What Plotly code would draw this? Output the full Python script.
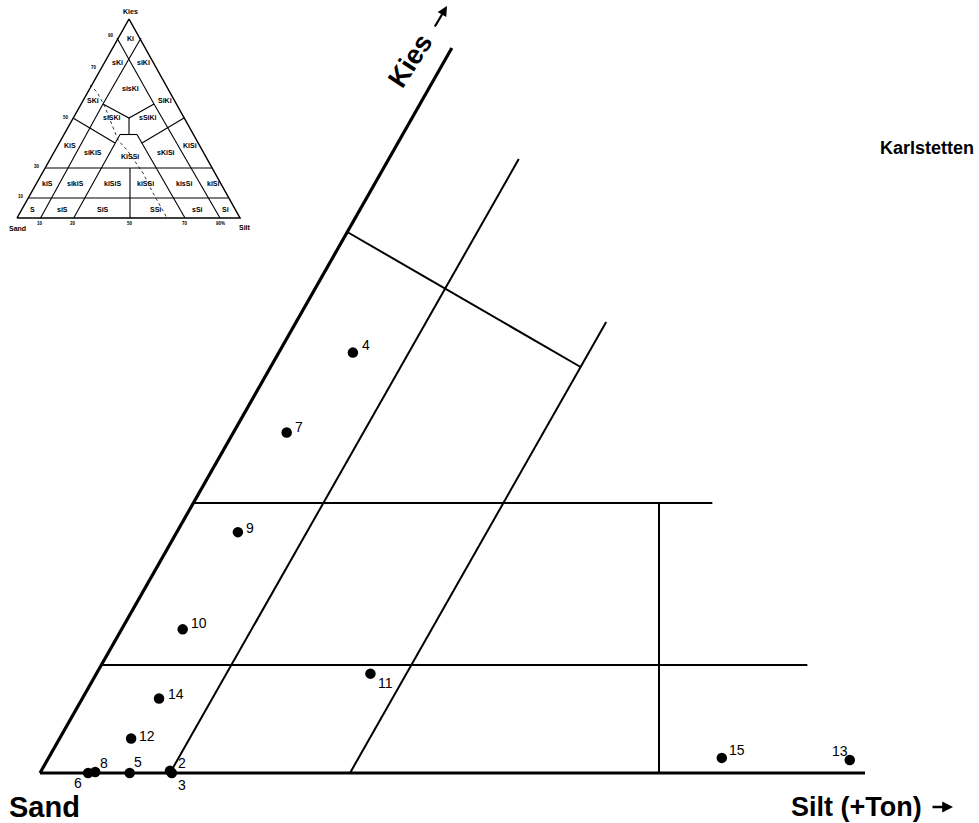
import numpy as np
import plotly.graph_objects as go

# ---------------- data ----------------
sample_ids = ["2", "3", "4", "5", "6", "7", "8", "9", "10", "11", "12", "13", "14", "15"]
silt_pct = [9.9, 10.1, 5.7, 6.9, 3.7, 4.1, 4.2, 4.7, 4.7, 18.0, 5.5, 62.0, 5.9, 53.5]
kies_pct = [0.2, 0.0, 41.1, 0.0, 0.0, 35.2, 0.1, 26.4, 14.4, 9.2, 3.2, 1.2, 6.9, 1.4]

# axis calibration of the (non-linear) diagram scales: percent -> diagram units
silt_ticks = [0, 10, 20, 50, 70, 90, 100]
silt_units = [0, 130, 310, 620, 924, 1116, 1226]
kies_ticks = [0, 10, 30, 50, 70, 90, 100]
kies_units = [0, 108, 270, 541, 830, 990, 1094]

# key diagram: class names and tick labels
inset_classes = ["Ki", "sKi", "siKi", "sisKi", "SKi", "SiKi", "siSKi", "sSiKi",
                 "KiS", "siKiS", "KiSSi", "sKiSi", "KiSi",
                 "kiS", "sikiS", "kiSiS", "kiSSi", "kisSi", "kiSi",
                 "S", "siS", "SiS", "SSi", "sSi", "Si"]
inset_bottom_ticks = ["10", "20", "50", "70", "90%"]
inset_left_ticks = ["90", "70", "50", "30", "10"]

# ---------------- geometry of the drawing ----------------
SHEAR = 0.568  # horizontal offset per unit of height (60-degree edges)

def main_xy(u, h):
    u = np.asarray(u, float); h = np.asarray(h, float)
    return u + SHEAR * h, h

# main diagram frame (diagram units: u along Silt axis, h along Kies axis)
main_frame = [[(0, 0), (825, 0)], [(0, 0), (0, 725)]]
main_grid = [
    [(130, 0), (130, 614)],
    [(310, 0), (310, 451)],
    [(0, 541), (310, 406)],
    [(0, 108), (706, 108)],
    [(0, 270), (519, 270)],
    [(619, 0), (619 - 270 * SHEAR, 270)],
]

# key diagram (inset), units relative to its Sand corner
def inset_xy(dx, dy):
    dx = np.asarray(dx, float); dy = np.asarray(dy, float)
    return dx - 23, dy + 555

inset_outline = [[(0, 0), (223, 0), (112, 199), (0, 0)]]
inset_grid = [
    [(11.3, 20), (211.8, 20)],
    [(28.2, 50), (195.1, 50)],
    [(113, 0), (113, 50)],
    [(23.6, 0), (86, 114)],
    [(56.7, 0), (103, 83.5)],
    [(56, 100), (98, 75)],
    [(203, 0), (137, 114)],
    [(168, 0), (120, 83.5)],
    [(167, 100), (125, 75)],
    [(100, 180), (137, 114)],
    [(124, 180), (86, 114)],
    [(86, 114), (112, 100), (137, 114)],
    [(112, 100), (112, 83.5)],
    [(103, 83.5), (120, 83.5)],
]
inset_curve = [(73, 133), (80, 126), (88, 111), (101, 78), (110, 68), (126, 45), (136, 25), (150, 0)]
inset_class_pos = [(113, 180), (100, 156), (126, 156), (113, 130), (76, 118), (148, 118),
                   (95, 101), (131, 101),
                   (53, 73), (76, 66), (113, 62), (149, 66), (173, 73),
                   (30, 35), (58, 35), (95, 35), (128, 35), (167, 35), (196, 35),
                   (15, 9), (45, 9), (86, 9), (138, 9), (180, 9), (208, 9)]
inset_bottom_pos = [(23, -5), (56, -5), (113, -5), (168, -5), (203, -5)]
inset_left_pos = [(94, 183), (77, 151), (49, 101), (20, 52), (4, 22)]


def seg_xy(segs, fn):
    xs, ys = [], []
    for s in segs:
        x, y = fn([p[0] for p in s], [p[1] for p in s])
        xs += list(x) + [None]
        ys += list(y) + [None]
    return xs, ys


fig = go.Figure()

# main frame and grid
x, y = seg_xy(main_frame, main_xy)
fig.add_trace(go.Scatter(x=x, y=y, mode="lines", line=dict(color="black", width=3.2),
                         hoverinfo="skip", showlegend=False))
x, y = seg_xy(main_grid, main_xy)
fig.add_trace(go.Scatter(x=x, y=y, mode="lines", line=dict(color="black", width=2),
                         hoverinfo="skip", showlegend=False))

# inset
x, y = seg_xy(inset_outline, inset_xy)
fig.add_trace(go.Scatter(x=x, y=y, mode="lines", line=dict(color="black", width=1.5),
                         hoverinfo="skip", showlegend=False))
x, y = seg_xy(inset_grid, inset_xy)
fig.add_trace(go.Scatter(x=x, y=y, mode="lines", line=dict(color="black", width=1.1),
                         hoverinfo="skip", showlegend=False))
x, y = seg_xy([inset_curve], inset_xy)
fig.add_trace(go.Scatter(x=x, y=y, mode="lines", line=dict(color="black", width=0.8, dash="dot"),
                         hoverinfo="skip", showlegend=False))

# sample points
u = np.interp(silt_pct, silt_ticks, silt_units)
h = np.interp(kies_pct, kies_ticks, kies_units)
px, py = main_xy(u, h)
fig.add_trace(go.Scatter(x=px, y=py, mode="markers", text=sample_ids,
                         marker=dict(color="black", size=10.5),
                         hovertemplate="Probe %{text}<extra></extra>", showlegend=False))

# label offsets in screen pixels (right, up)
label_shift = {"2": (12, 8), "3": (10, -12), "4": (13, 8), "5": (8, 11), "6": (-10, -10),
               "7": (12, 6), "8": (9, 9), "9": (12, 4), "10": (16, 6), "11": (15, -9),
               "12": (16, 2), "13": (-10, 9), "14": (17, 4), "15": (15, 8)}
annotations = []
for sid, xx, yy in zip(sample_ids, px, py):
    sx, sy = label_shift[sid]
    annotations.append(dict(x=xx, y=yy, xref="x", yref="y", text=sid, showarrow=False,
                            xshift=sx, yshift=sy, xanchor="center", yanchor="middle",
                            font=dict(family="Liberation Sans, Arial", size=14, color="black")))

# inset texts
for name, (dx, dy) in zip(inset_classes, inset_class_pos):
    ix, iy = inset_xy(dx, dy)
    annotations.append(dict(x=float(ix), y=float(iy), xref="x", yref="y", text="<b>%s</b>" % name,
                            showarrow=False, xanchor="center", yanchor="middle",
                            font=dict(family="Liberation Sans, Arial", size=7, color="black")))
for name, (dx, dy) in zip(inset_bottom_ticks, inset_bottom_pos):
    ix, iy = inset_xy(dx, dy)
    annotations.append(dict(x=float(ix), y=float(iy), xref="x", yref="y", text="<b>%s</b>" % name,
                            showarrow=False, xanchor="center", yanchor="middle",
                            font=dict(family="Liberation Sans, Arial", size=4.5, color="black")))
for name, (dx, dy) in zip(inset_left_ticks, inset_left_pos):
    ix, iy = inset_xy(dx, dy)
    annotations.append(dict(x=float(ix), y=float(iy), xref="x", yref="y", text="<b>%s</b>" % name,
                            showarrow=False, xanchor="center", yanchor="middle",
                            font=dict(family="Liberation Sans, Arial", size=4.5, color="black")))
for name, (dx, dy) in [("Kies", (113, 207)), ("Sand", (0, -10)), ("Silt", (228, -9))]:
    ix, iy = inset_xy(dx, dy)
    annotations.append(dict(x=float(ix), y=float(iy), xref="x", yref="y", text="<b>%s</b>" % name,
                            showarrow=False, xanchor="center", yanchor="middle",
                            font=dict(family="Liberation Sans, Arial", size=7, color="black")))

# main titles
bold = "Liberation Sans, Arial"
annotations += [
    dict(x=4, y=-34, xref="x", yref="y", text="<b>Sand</b>", showarrow=False,
         xanchor="center", yanchor="middle", font=dict(family=bold, size=29, color="black")),
    dict(x=816, y=-34, xref="x", yref="y", text="<b>Silt (+Ton)</b>", showarrow=False,
         xanchor="center", yanchor="middle", font=dict(family=bold, size=27, color="black")),
    # arrow after the Silt label
    dict(x=913, y=-34, xref="x", yref="y", ax=891, ay=-34, axref="x", ayref="y", text="",
         showarrow=True, arrowhead=2, arrowsize=0.9, arrowwidth=2.4, arrowcolor="black"),
    dict(x=887, y=625, xref="x", yref="y", text="<b>Karlstetten</b>", showarrow=False,
         xanchor="center", yanchor="middle", font=dict(family=bold, size=18, color="black")),
    dict(x=370, y=712, xref="x", yref="y", text="<b>Kies</b>", showarrow=False, textangle=-57,
         xanchor="center", yanchor="middle", font=dict(family=bold, size=27, color="black")),
    # arrow after the Kies label
    dict(x=407, y=767, xref="x", yref="y", ax=394, ay=745, axref="x", ayref="y", text="",
         showarrow=True, arrowhead=2, arrowsize=0.9, arrowwidth=2.2, arrowcolor="black"),
]

fig.update_layout(
    width=979, height=823,
    margin=dict(l=0, r=0, t=0, b=0),
    paper_bgcolor="white", plot_bgcolor="white",
    xaxis=dict(range=[-40, 939], visible=False, fixedrange=True),
    yaxis=dict(range=[-50, 773], visible=False, fixedrange=True),
    annotations=annotations,
    showlegend=False,
)

fig.write_html("out.html", config={"displayModeBar": False},
               post_script="document.body.style.margin='0';document.body.style.overflow='hidden';")
